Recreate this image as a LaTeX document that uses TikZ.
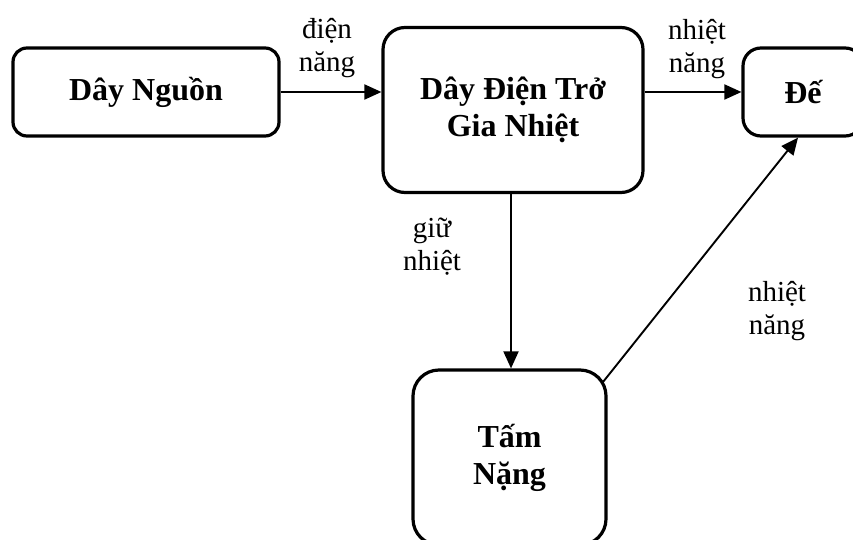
\documentclass[tikz,border=0pt]{standalone}
\usepackage{fontspec}
\setmainfont{Liberation Serif}
\usetikzlibrary{arrows.meta,positioning}

\tikzset{
	block/.style={draw, line width=3.2pt, rounded corners=#1, align=center, inner sep=0pt,
		font=\fontsize{32}{37}\selectfont\bfseries},
	block/.default=16pt,
	flow/.style={line width=1.9pt, -{Triangle[length=17pt,width=15pt]}},
	note/.style={align=center, font=\fontsize{29}{33}\selectfont}
}

\begin{document}
\begin{tikzpicture}[x=1pt, y=-1pt]

	\useasboundingbox (0,0) rectangle (853,540);
	\clip (0,0) rectangle (853,540);

	% khoi chinh
	\node[block=14pt, minimum width=266pt, minimum height=88pt] (nguon) at (146,92) {Dây Nguồn};
	\node[block=22pt, minimum width=260pt, minimum height=165pt] (dientro) at (513,110) {Dây Điện Trở\\Gia Nhiệt};
	\node[block=18pt, minimum width=120pt, minimum height=88pt] (de) at (803,92) {Đế};
	\node[block=26pt, minimum width=193pt, minimum height=175pt] (tam) at (509.5,457.5) {Tấm\\Nặng};

	% nhan
	\node[note] (diennang) at (327,48) {điện\\năng};
	\node[note] (nhietnang) at (697,49) {nhiệt\\năng};
	\node[note] (giunhiet) at (432,247) {giữ\\nhiệt};
	\node[note] (nhietnang2) at (777,311) {nhiệt\\năng};

	\coordinate (goc) at (603,382);

	\draw[flow] (nguon.east) -- (nguon.east -| dientro.west);
	\draw[flow] (dientro.east |- de.west) -- (de.west);
	\draw[flow] (dientro.south -| 511,0) -- (tam.north -| 511,0);
	\draw[flow] (goc) -- ([xshift=-5pt]de.south);
\end{tikzpicture}
\end{document}
